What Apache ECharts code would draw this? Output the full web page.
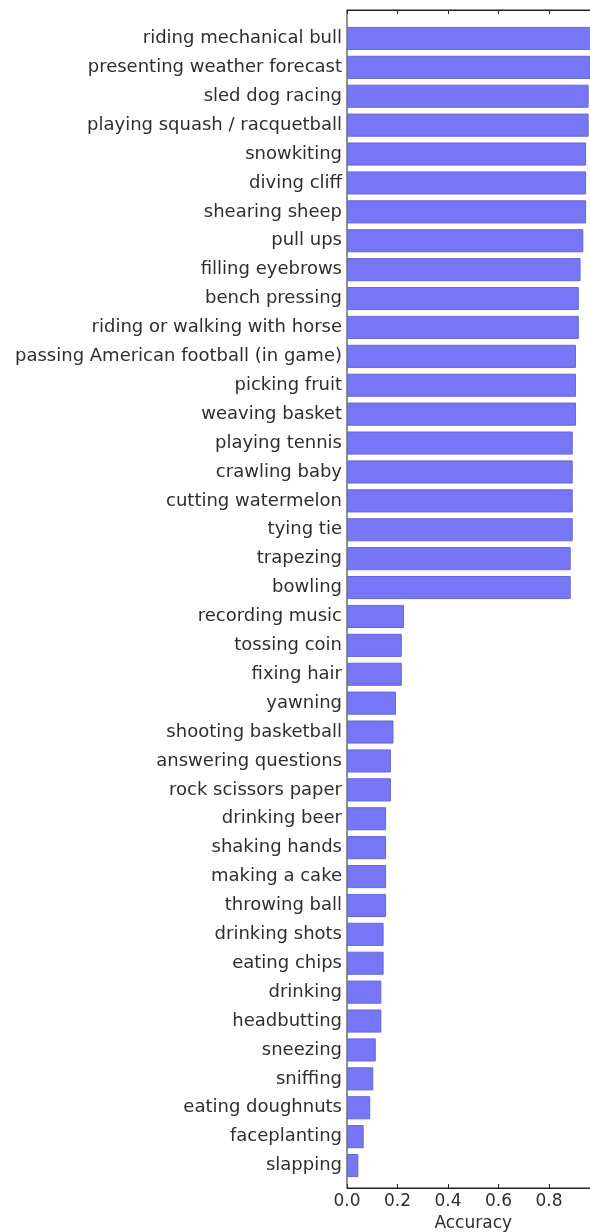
<!DOCTYPE html>
<html>
<head>
<meta charset="utf-8">
<script src="https://cdn.jsdelivr.net/npm/echarts@6/dist/echarts.min.js"></script>
<style>
  html, body { margin: 0; padding: 0; background: #fff; }
  #main { width: 590px; height: 1232px; }
</style>
</head>
<body>
<div id="main"></div>
<script>
var categories = [
  'riding mechanical bull', 'presenting weather forecast', 'sled dog racing',
  'playing squash / racquetball', 'snowkiting', 'diving cliff', 'shearing sheep',
  'pull ups', 'filling eyebrows', 'bench pressing', 'riding or walking with horse',
  'passing American football (in game)', 'picking fruit', 'weaving basket',
  'playing tennis', 'crawling baby', 'cutting watermelon', 'tying tie',
  'trapezing', 'bowling', 'recording music', 'tossing coin', 'fixing hair',
  'yawning', 'shooting basketball', 'answering questions', 'rock scissors paper',
  'drinking beer', 'shaking hands', 'making a cake', 'throwing ball',
  'drinking shots', 'eating chips', 'drinking', 'headbutting', 'sneezing',
  'sniffing', 'eating doughnuts', 'faceplanting', 'slapping'
];
var accuracy = [
  0.97, 0.965, 0.957, 0.957, 0.947, 0.947, 0.947, 0.936, 0.925, 0.918,
  0.918, 0.907, 0.907, 0.907, 0.894, 0.894, 0.894, 0.894, 0.886, 0.886,
  0.226, 0.217, 0.217, 0.194, 0.184, 0.174, 0.174, 0.155, 0.155, 0.155,
  0.155, 0.145, 0.145, 0.136, 0.136, 0.114, 0.104, 0.092, 0.066, 0.045
];
var xTicks = [0, 0.2, 0.4, 0.6, 0.8];

var FONT = 'DejaVu Sans';
var TEXT = '#2e2e2e';
var chart = echarts.init(document.getElementById('main'));
var option = {
  backgroundColor: '#fff',
  animation: false,
  grid: [
    // bars
    { left: 347, width: 252.5, top: 24, height: 1156, outerBoundsMode: 'none', containLabel: false },
    // frame
    { left: 347, width: 252.5, top: 10, height: 1178, outerBoundsMode: 'none', containLabel: false,
      show: true, borderColor: '#222', borderWidth: 1, backgroundColor: 'transparent' }
  ],
  xAxis: [
    { gridIndex: 0, type: 'value', min: 0, max: 1, show: false },
    {
      gridIndex: 1, type: 'value', min: 0, max: 1, interval: 0.2, position: 'bottom',
      axisLine: { show: true, lineStyle: { color: '#222' } },
      axisTick: { show: true, inside: true, length: 4, lineStyle: { color: '#222' } },
      splitLine: { show: false },
      axisLabel: {
        fontFamily: FONT, fontSize: 17, color: TEXT, margin: 5,
        formatter: function (v) {
          return xTicks.some(function (t) { return Math.abs(t - v) < 1e-6; }) ? v.toFixed(1) : '';
        }
      },
      name: 'Accuracy', nameLocation: 'middle', nameGap: 27,
      nameTextStyle: { fontFamily: FONT, fontSize: 17, color: TEXT }
    },
    {
      gridIndex: 1, type: 'value', min: 0, max: 1, interval: 0.2, position: 'top',
      axisLine: { show: true, lineStyle: { color: '#222' } },
      axisTick: { show: true, inside: true, length: 4, lineStyle: { color: '#222' } },
      splitLine: { show: false },
      axisLabel: { show: false }
    }
  ],
  yAxis: [
    {
      gridIndex: 0, type: 'category', data: categories, inverse: true,
      axisLine: { show: false },
      axisTick: { show: true, inside: true, length: 4, alignWithLabel: true, lineStyle: { color: '#555' } },
      axisLabel: { fontFamily: FONT, fontSize: 18, color: TEXT, margin: 5 }
    },
    { gridIndex: 1, type: 'value', show: false }
  ],
  series: [
    {
      type: 'bar', xAxisIndex: 0, yAxisIndex: 0,
      data: accuracy,
      barCategoryGap: '20%',
      itemStyle: { color: '#7676f6', borderColor: '#6868d8', borderWidth: 1 }
    }
  ]
};
chart.setOption(option);
</script>
</body>
</html>
